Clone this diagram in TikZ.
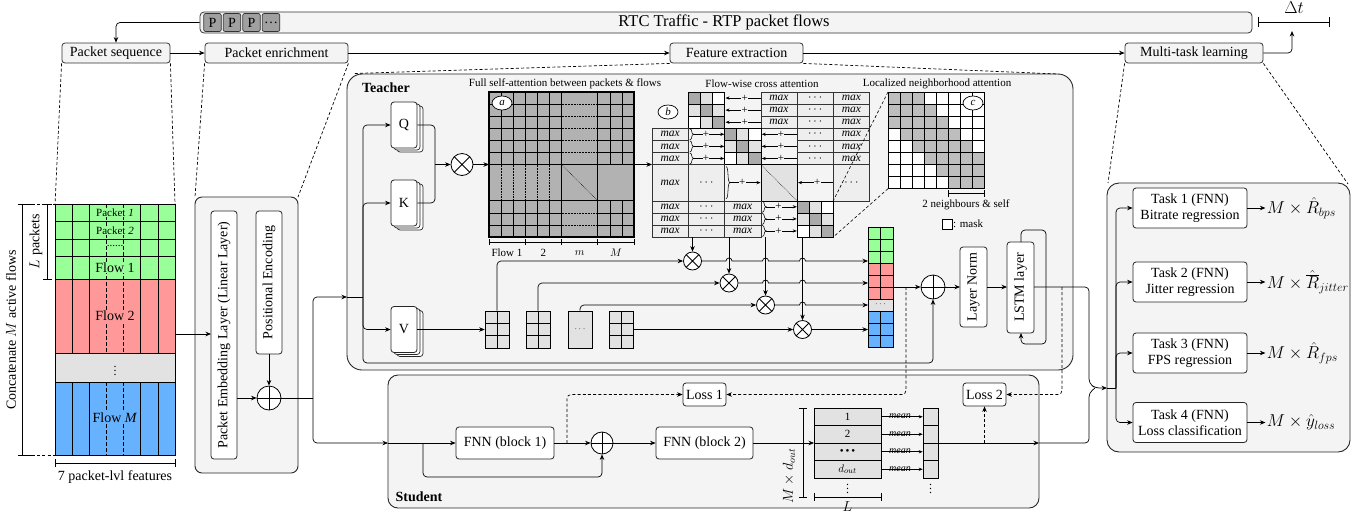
\documentclass[tikz,border=0pt]{standalone}
\usepackage{fontspec}
\setmainfont{Liberation Serif}
\usetikzlibrary{arrows.meta,shapes.geometric}

\definecolor{pgreen}{RGB}{153,255,153}
\definecolor{pred}{RGB}{255,153,153}
\definecolor{pblue}{RGB}{102,178,255}
\definecolor{pgray}{RGB}{226,226,226}
\definecolor{tbg}{RGB}{244,244,244}
\definecolor{agray}{RGB}{178,178,178}
\definecolor{bdark}{RGB}{170,170,170}
\definecolor{blight}{RGB}{226,226,226}
\definecolor{cellbg}{RGB}{238,238,238}
\definecolor{cgray}{RGB}{190,190,190}
\definecolor{pkt}{RGB}{160,160,160}

\newcommand\fxl{\fontsize{16.5}{19}\selectfont}
\newcommand\fl{\fontsize{14}{16.5}\selectfont}
\newcommand\fs{\fontsize{11}{13}\selectfont}
\newcommand\fmx{\fontsize{11.5}{12}\selectfont\itshape}
\newcommand\fpl{\fontsize{9.5}{10}\selectfont}
\newcommand\fplus{\fontsize{11}{11}\selectfont}
\newcommand\fmean{\fontsize{10}{10}\selectfont\itshape}
\newcommand\fvd{\fontsize{12}{12}\selectfont}
\newcommand\cw{12.083}
\newcommand\pktdots{\ldots}

% cells of the flow-wise cross attention block matrix
\newcommand\bMax[3]{\foreach \kk in {0,1,2}{\node[mcell] at ({#1+18.125},{#2+6.0415+\kk*12.083}) {#3};}}
\newcommand\bTall[3]{\node[mcell, minimum height=36.25pt] at ({#1+18.125},{#2+18.125}) {#3};}
\newcommand\bLarr[2]{\draw[arrs] ({#1+36},{#2}) -- ({#1+1},{#2}) node[pluslab,pos=0.45]{+};}
\newcommand\bLarrs[2]{\foreach \kk in {0,1,2}{\bLarr{#1}{#2+6.0415+\kk*12.083}}}
\newcommand\bRarr[3]{%
  \draw[line width=0.55pt] ({#1+1.5},{#2-#3}) .. controls ({#1+4.5},{#2-#3}) and ({#1+2.5},{#2}) .. ({#1+5.5},{#2}) .. controls ({#1+2.5},{#2}) and ({#1+4.5},{#2+#3}) .. ({#1+1.5},{#2+#3});
  \draw[arrs] ({#1+5.5},{#2}) -- ({#1+36},{#2}) node[pluslab,pos=0.4]{+};}
\newcommand\bRarrs[2]{\foreach \kk in {0,1,2}{\bRarr{#1}{#2+6.0415+\kk*12.083}{5.5}}}
\newcommand\bBlk[2]{\foreach \ii in {0,1,2}{\foreach \jj in {0,1,2}{%
  \pgfmathtruncatemacro\dd{abs(\ii-\jj)}%
  \ifcase\dd\def\bcol{bdark}\or\def\bcol{blight}\else\def\bcol{white}\fi
  \filldraw[fill=\bcol, draw=black, line width=0.5pt] ({#1+\jj*12.083},{#2+\ii*12.083}) rectangle ++(12.083,12.083);}}}
% stacked Q/K/V cards behind the front one
\newcommand\qkvback[2]{\draw[cardst] ({#1-7},{#2-19}) rectangle ++(26,46); \draw[cardst] ({#1-10},{#2-21}) rectangle ++(26,46);}

\begin{document}
\begin{tikzpicture}[x=1pt,y=-1pt,line width=0.7pt,
  arr/.style={-{Stealth[length=5.5pt,width=4.5pt]}},
  arrs/.style={-{Stealth[length=4pt,width=3.2pt]}, line width=0.55pt},
  rc/.style={rounded corners=4pt},
  dsh/.style={dash pattern=on 3pt off 2.2pt},
  stage/.style={draw=black!80, fill=tbg, rounded corners=3pt, line width=0.8pt, minimum height=20pt, inner sep=0pt, font=\fl},
  panel/.style={draw=black!85, fill=tbg, line width=0.9pt},
  wbox/.style={draw=black!85, fill=white, rounded corners=3pt, line width=0.8pt, inner sep=0pt},
  cardst/.style={draw=black!85, fill=white, rounded corners=3pt, line width=0.7pt},
  opl/.style={circle, draw, fill=white, inner sep=0pt, line width=0.8pt, path picture={\draw[line width=0.8pt] (path picture bounding box.north) -- (path picture bounding box.south) (path picture bounding box.west) -- (path picture bounding box.east);}},
  otm/.style={circle, draw, fill=white, inner sep=0pt, line width=0.8pt, path picture={\draw[line width=0.8pt] (path picture bounding box.north west) -- (path picture bounding box.south east) (path picture bounding box.north east) -- (path picture bounding box.south west);}},
  mcell/.style={draw=black!80, fill=cellbg, line width=0.5pt, minimum width=36.25pt, minimum height=12.083pt, inner sep=0pt, font=\fmx},
  pluslab/.style={fill=tbg, inner sep=0.2pt, font=\fplus},
  tag/.style={ellipse, draw, fill=white, line width=0.7pt, minimum width=20pt, minimum height=14pt, inner sep=0pt, font=\fs\itshape},
  mrow/.style={draw, fill=pgray, line width=0.6pt, minimum width=67pt, minimum height=17.5pt, inner sep=0pt, font=\fs},
  mcol/.style={draw, fill=pgray, line width=0.6pt, minimum width=15pt, minimum height=17.5pt, inner sep=0pt},
  vblock/.style={draw, fill=pgray, line width=0.6pt, minimum width=24pt, minimum height=37pt, inner sep=0pt},
  pktbox/.style={draw=black!80, fill=pkt, rounded corners=2pt, line width=0.7pt, minimum width=17.5pt, minimum height=18pt, inner sep=0pt, font=\fl},
  task/.style={wbox, minimum width=114pt, minimum height=40pt, align=center, font=\fontsize{14}{16.5}\selectfont}
]
\useasboundingbox (0,0) rectangle (1372,515);
\fill[white] (0,0) rectangle (1372,515);

% ---------- pipeline bar ----------
\node[draw=black!80, fill=tbg, rounded corners=4pt, line width=0.8pt, minimum width=1052pt, minimum height=21pt, inner sep=0pt] (bar) at (726,22.5) {};
\node[font=\fxl] (bartxt) at (724,22.5) {RTC Traffic - RTP packet flows};
\node[pktbox] (pk0) at (212.5,22.5) {P};
\node[pktbox] (pk1) at (232,22.5) {P};
\node[pktbox] (pk2) at (251.5,22.5) {P};
\node[pktbox] (pk3) at (271,22.5) {\pktdots};

\node[stage, minimum width=108pt] (seq) at (116,53) {Packet sequence};
\node[stage, minimum width=143pt] (enr) at (276.5,53) {Packet enrichment};
\node[stage, minimum width=133pt] (feat) at (736.5,53) {Feature extraction};
\node[stage, minimum width=138pt] (mtl) at (1194,53) {Multi-task learning};

\draw[arr,rc] (bar.west) -- (116,22.5) -- (seq.north);
\draw[arr] (seq.east) -- (enr.west);
\draw[arr] (enr.east) -- (feat.west);
\draw[arr] (feat.east) -- (mtl.west);
\coordinate (dtend) at (1292,31);
\draw[arr,rc] (mtl.east) -- (1292,53) -- (dtend);
\draw (1258,22) -- (1329,22) (1258,17) -- (1258,27) (1329,17) -- (1329,27);
\node[font=\fxl] (dt) at (1294,8) {$\Delta t$};

% ---------- panels ----------
\draw[panel, rounded corners=7pt] (195,197) rectangle (298,473);
\draw[panel, rounded corners=15pt] (347,74) rectangle (1073,370);
\draw[panel, rounded corners=10pt] (388,375) rectangle (1039,508);
\draw[panel, rounded corners=12pt] (1107,183) rectangle (1350,452);

% zoom guides from the pipeline stages
\draw[dsh] (seq.south west) -- (55,204) (seq.south east) -- (175,204);
\draw[dsh] (enr.south west) -- (195,197) (enr.south east) -- (298,197);
\draw[dsh] (feat.south west) -- (354,73.5) (feat.south east) -- (1058,74);
\draw[dsh] (mtl.south west) -- (1108,183) (mtl.south east) -- (1348,184);

% ---------- packet sequence of concatenated flows ----------
\fill[pgreen] (55,204) rectangle (175,279);
\fill[pred] (55,279) rectangle (175,353);
\fill[pgray] (55,353) rectangle (175,382);
\fill[pblue] (55,382) rectangle (175,455);
\foreach \ii in {1,2,5,6}{\draw ({55+\ii*17.143},204) -- ++(0,149) ({55+\ii*17.143},382) -- ++(0,73);}
\foreach \ii in {3,4}{\draw[dash pattern=on 4pt off 2pt] ({55+\ii*17.143},204) -- ++(0,149) ({55+\ii*17.143},382) -- ++(0,73);}
\foreach \yy in {221.7,239,256.3,279,353,382}{\draw (55,\yy) -- (175,\yy);}
\draw (55,204) rectangle (175,455);
\node[font=\fs, fill=pgreen, inner sep=0.5pt] (p1) at (115,213) {Packet \textit{1}};
\node[font=\fs, fill=pgreen, inner sep=0.5pt] (p2) at (115,230.3) {Packet \textit{2}};
\node[font=\fs] (p3) at (115,245.5) {......};
\node[font=\fl, fill=pgreen, inner sep=0.5pt] (f1) at (115,268) {Flow 1};
\node[font=\fl, fill=pred, inner sep=1pt] (f2) at (115,316) {Flow 2};
\node[font=\fvd, inner sep=0pt] (fd) at (115,367.5) {$\vdots$};
\node[font=\fl, fill=pblue, inner sep=1pt] (fm) at (115,418) {Flow \textit{M}};

\draw (47,204) -- (47,279) (43,204) -- (52,204) (43,279) -- (52,279);
\node[font=\fl, rotate=90] (lp) at (36,241.5) {$L$ packets};
\draw (22.7,204) -- (22.7,455) (18,204) -- (32,204) (18,455) -- (32,455);
\draw[dsh] (32,204) -- (55,204) (32,455) -- (55,455);
\node[font=\fl, rotate=90] (cm) at (11,330) {Concatenate $M$ active flows};
\draw (55,463) -- (175,463) (55,459) -- (55,467) (175,459) -- (175,467);
\node[font=\fl] (feat7) at (115,477.5) {7 packet-lvl features};

% ---------- packet enrichment ----------
\node[wbox, rotate=90, minimum width=248pt, minimum height=26pt, font=\fl] (pel) at (224,335) {Packet Embedding Layer (Linear Layer)};
\node[wbox, rotate=90, minimum width=143pt, minimum height=26pt, font=\fl] (pe) at (269,282.5) {Positional Encoding};
\node[opl, minimum size=24pt] (oe) at (269,398) {};
\draw[arr] (175,334) -- (211,334);
\draw[arr] (269,354) -- (oe.north);
\draw[arr] (237,398) -- (oe.west);
\draw[rc] (oe.east) -- (313,398);
\draw[arr,rc] (313,398) -- (313,297) -- (347,297);
\draw[arr,rc] (313,398) -- (313,443) -- (388,443);

% ---------- teacher ----------
\node[font=\fl\bfseries] (tl) at (386,88) {Teacher};
\qkvback{404}{125}
\node[wbox, minimum width=26pt, minimum height=46pt, font=\fl] (Q) at (404,125) {Q};
\qkvback{404}{203}
\node[wbox, minimum width=26pt, minimum height=46pt, font=\fl] (K) at (404,203) {K};
\qkvback{404}{329.5}
\node[wbox, minimum width=26pt, minimum height=46pt, font=\fl] (V) at (404,329.5) {V};
\draw (347,297) -- (363,297);
\draw[arr,rc] (363,297) -- (363,125) -- (Q.west);
\draw[arr,rc] (363,297) -- (363,203) -- (K.west);
\draw[arr,rc] (363,297) -- (363,329.5) -- (V.west);

\node[otm, minimum size=22pt] (mqk) at (462,164.5) {};
\draw[rc] (Q.east) -- (435,125) -- (435,164.5);
\draw[rc] (K.east) -- (435,203) -- (435,164.5);
\draw[arr] (435,164.5) -- (mqk.west);
\draw[arr] (mqk.east) -- (489,164.5);

% (a) full self-attention
\node[font=\fs] (ta) at (565,84) {Full self-attention between packets \& flows};
\fill[agray] (489,92) rectangle (634,237);
\begin{scope}[line width=0.55pt]
\foreach \ii in {1,2,4,5,10,11}{\draw ({489+\ii*\cw},92) -- ({489+\ii*\cw},164.5) ({489+\ii*\cw},200.75) -- ({489+\ii*\cw},237);}
\foreach \jj in {1,2,4,5,10,11}{\draw (489,{92+\jj*\cw}) -- (561.5,{92+\jj*\cw}) (597.75,{92+\jj*\cw}) -- (634,{92+\jj*\cw});
  \draw[densely dotted] (561.5,{92+\jj*\cw}) -- (597.75,{92+\jj*\cw});}
\foreach \ii in {1,2,3,4,5}{\draw[densely dotted] ({489+\ii*\cw},164.5) -- ({489+\ii*\cw},200.75);}
\draw[densely dotted] (561.5,128.25) -- (597.75,128.25);
\draw[densely dotted] (561.5,164.5) -- (597.75,200.75);
\end{scope}
\begin{scope}[line width=1.1pt]
\draw (525.25,92) -- (525.25,164.5) (525.25,200.75) -- (525.25,237);
\draw (489,128.25) -- (561.5,128.25) (597.75,128.25) -- (634,128.25);
\draw (561.5,92) -- (561.5,237) (597.75,92) -- (597.75,237);
\draw (489,164.5) -- (634,164.5) (489,200.75) -- (634,200.75);
\draw (489,92) rectangle (634,237);
\end{scope}
\node[tag] (la) at (502,103) {a};
\draw (489,242) -- (634,242);
\foreach \xx in {489,525.25,561.5,597.75,634}{\draw (\xx,239) -- (\xx,245);}
\node[font=\fs] (fl1) at (507,253) {Flow 1};
\node[font=\fs] (fl2) at (543.4,253) {2};
\node[font=\fs] (flm) at (579.6,253) {$m$};
\node[font=\fs] (flM) at (615.9,253) {$M$};
\draw[arr] (634,164.5) -- (652,164.5);

% (b) flow-wise cross attention
\node[font=\fs] (tb) at (762,84) {Flow-wise cross attention};
\bBlk{688.25}{92}
\bLarrs{724.5}{92}
\bMax{760.75}{92}{max}
\bMax{797}{92}{$\cdots$}
\bMax{833.25}{92}{max}
\bMax{652}{128.25}{max}
\bRarrs{688.25}{128.25}
\bBlk{724.5}{128.25}
\bLarrs{760.75}{128.25}
\bMax{797}{128.25}{$\cdots$}
\bMax{833.25}{128.25}{max}
\bTall{652}{164.5}{max}
\bTall{688.25}{164.5}{$\cdots$}
\bRarr{724.5}{182.625}{16}
\filldraw[fill=blight, draw=black, line width=0.5pt] (760.75,164.5) rectangle ++(36.25,36.25);
\draw[densely dotted, line width=0.55pt] (760.75,164.5) -- ++(36.25,36.25);
\bLarr{797}{182.625}
\bTall{833.25}{164.5}{$\cdots$}
\bMax{652}{200.75}{max}
\bMax{688.25}{200.75}{$\cdots$}
\bMax{724.5}{200.75}{max}
\bRarrs{760.75}{200.75}
\bBlk{797}{200.75}
\node[tag] (lb) at (668,112) {b};

% (c) localized neighbourhood attention
\node[font=\fs] (tc) at (937,84) {Localized neighborhood attention};
\foreach \ii in {0,1,2,3,4,5,6,7}{\foreach \jj in {0,1,2,3,4,5,6,7}{%
  \pgfmathtruncatemacro\dd{abs(\ii-\jj)}%
  \ifnum\dd<3 \def\ccol{cgray}\else\def\ccol{white}\fi
  \filldraw[fill=\ccol, draw=black, line width=0.75pt] ({888+\jj*\cw},{92+\ii*\cw}) rectangle ++(\cw,\cw);}}
\draw[line width=0.9pt] (888,92) rectangle ++({8*\cw},{8*\cw});
\node[tag] (lc) at (973,103) {c};
\draw ({888+5*\cw},193) -- ({888+8*\cw},193) ({888+5*\cw},189.5) -- ({888+5*\cw},196.5) ({888+8*\cw},189.5) -- ({888+8*\cw},196.5);
\node[font=\fs] (nb) at (966,205) {2 neighbours \& self};
\node[draw, fill=white, line width=0.7pt, minimum size=10pt, inner sep=0pt] (msq) at (947,224) {};
\node[font=\fs, anchor=west, inner sep=0.5pt] (mtx) at (msq.east) {: mask};
\draw[dsh, line width=0.6pt] (888,92) -- (833.25,200.75);
\draw[dsh, line width=0.6pt] (888,{92+8*\cw}) -- (833.25,237);

% values and per-flow weighting
\node[vblock] (vb1) at (497,329.5) {};
\node[vblock] (vb2) at (538,329.5) {};
\node[vblock, font=\fpl] (vb3) at (580,329.5) {$\cdots$};
\node[vblock] (vb4) at (621.5,329.5) {};
\foreach \xx in {485,526,609.5}{
  \draw[line width=0.6pt] ({\xx+12},311) -- ({\xx+12},348) (\xx,323.33) -- ({\xx+24},323.33) (\xx,335.67) -- ({\xx+24},335.67);}
\draw[arr] (V.east) -- (vb1.west);

\node[otm, minimum size=18pt] (m1) at (692.5,261) {};
\node[otm, minimum size=18pt] (m2) at (729,283) {};
\node[otm, minimum size=18pt] (m3) at (765.5,305) {};
\node[otm, minimum size=18pt] (m4) at (802.5,329.5) {};
\draw[arr,rc] (vb1.north) -- (497,261) -- (m1.west);
\draw[arr,rc] (vb2.north) -- (538,283) -- (m2.west);
\draw[arr,rc] (vb3.north) -- (580,305) -- (m3.west);
\draw[arr] (vb4.east) -- (m4.west);
\draw[arr] (692.5,237) -- (m1.north);
\draw[arr] (729,237) -- (m2.north);
\draw[arr] (765.5,237) -- (m3.north);
\draw[arr] (802.5,237) -- (m4.north);

% concatenated attention output
\fill[pgreen] (868,227) rectangle (893,263);
\fill[pred] (868,263) rectangle (893,299);
\fill[pgray] (868,299) rectangle (893,311);
\fill[pblue] (868,311) rectangle (893,347);
\draw[line width=0.6pt] (880.5,227) -- (880.5,299) (880.5,311) -- (880.5,347);
\foreach \yy in {239,251,263,275,287,299,311,323,335}{\draw[line width=0.6pt] (868,\yy) -- (893,\yy);}
\draw[line width=0.6pt] (868,227) rectangle (893,347);
\node[font=\fpl, inner sep=0pt] (od) at (880.5,304.5) {$\cdots$};

\draw[arr] (m1.east) -- (726,261) arc[start angle=180, end angle=360, radius=3] -- (762.5,261) arc[start angle=180, end angle=360, radius=3] -- (799.5,261) arc[start angle=180, end angle=360, radius=3] -- (868,261);
\draw[arr] (m2.east) -- (762.5,283) arc[start angle=180, end angle=360, radius=3] -- (799.5,283) arc[start angle=180, end angle=360, radius=3] -- (868,283);
\draw[arr] (m3.east) -- (799.5,305) arc[start angle=180, end angle=360, radius=3] -- (868,305);
\draw[arr] (m4.east) -- (868,329.5);

% residual, norm and LSTM
\node[opl, minimum size=24pt] (oT) at (933,287) {};
\node[wbox, rotate=90, minimum width=80pt, minimum height=27pt, font=\fl] (lnorm) at (973.5,287) {Layer Norm};
\node[wbox, rotate=90, minimum width=91pt, minimum height=27pt, font=\fl] (lstm) at (1020.5,287.5) {LSTM layer};
\draw[arr] (893,287) -- (oT.west);
\draw[arr,rc] (363,297) -- (363,363) -- (933,363) -- (oT.south);
\draw[arr] (oT.east) -- (960,287);
\draw[arr] (987,287) -- (1007,287);
\draw[arr,rc] (1021,242) -- (1021,230) -- (1046,230) -- (1046,344) -- (1021,344) -- (1021,333);
\draw[arr,rc] (1034,287) -- (1089,287) -- (1089,383) -- (1095,388) -- (1107,388);

% ---------- student ----------
\node[font=\fl\bfseries] (sl) at (419,497) {Student};
\node[wbox, minimum width=98pt, minimum height=32pt, font=\fl] (fnn1) at (505,443) {FNN (block 1)};
\node[opl, minimum size=22pt] (os) at (602,443) {};
\node[wbox, minimum width=97pt, minimum height=32pt, font=\fl] (fnn2) at (704.5,443) {FNN (block 2)};
\node[wbox, minimum width=43pt, minimum height=23pt, font=\fl] (loss1) at (704.5,394.5) {Loss 1};
\node[wbox, minimum width=43pt, minimum height=23pt, font=\fl] (loss2) at (984.5,394.5) {Loss 2};
\draw[arr] (388,443) -- (fnn1.west);
\draw[arr,rc] (423,443) -- (423,477) -- (602,477) -- (os.south);
\draw[arr] (fnn1.east) -- (os.west);
\draw[arr] (os.east) -- (fnn2.west);
\draw[arr] (fnn2.east) -- (814,443);
\draw[dsh,arr,rc] (567,443) -- (567,394.5) -- (loss1.west);
\draw[dsh,arr,rc] (906,287) -- (906,394.5) -- (loss1.east);
\draw[dsh,arr,rc] (1062,287) -- (1062,394.5) -- (loss2.east);

\foreach \kk/\tt in {0/1,1/2,2/{\textbullet\,\textbullet\,\textbullet},3/{$d_{out}$}}{
  \node[mrow] (mr\kk) at (847.5,{416.75+\kk*17.5}) {\tt};
  \node[mcol] (mc\kk) at (930.5,{416.75+\kk*17.5}) {};
  \draw[arrs] (mr\kk.east) -- (mc\kk.west) node[midway, anchor=south, inner sep=0pt, xshift=-2pt, yshift=-2.5pt, font=\fmean] {mean};}
\node[font=\fvd, inner sep=0pt] (vd1) at (847.5,486) {$\vdots$};
\node[font=\fvd, inner sep=0pt] (vd2) at (930.5,486) {$\vdots$};
\draw (814,497) -- (881,497) (814,493) -- (814,501) (881,493) -- (881,501);
\node[font=\fl] (lL) at (847.5,506.5) {$L$};
\draw (803,408) -- (803,497) (799,408) -- (807,408) (799,497) -- (807,497);
\node[font=\fl, rotate=90] (md) at (789,476) {$M \times d_{out}$};
\draw[arr] (938,443) -- (1039,443);
\draw[dsh,arr] (984.5,443) -- (loss2.south);
\draw[rc] (1039,443) -- (1089,443) -- (1089,393) -- (1095,388);

% ---------- multi-task heads ----------
\node[task] (t1) at (1190,208) {Task 1 (FNN)\\Bitrate regression};
\node[task] (t2) at (1190,282) {Task 2 (FNN)\\Jitter regression};
\node[task] (t3) at (1190,353) {Task 3 (FNN)\\FPS regression};
\node[task] (t4) at (1190,422.5) {Task 4 (FNN)\\Loss classification};
\draw (1107,388) -- (1116,388);
\foreach \tk in {t1,t2,t3,t4}{\draw[arr,rc] (1116,388) |- (\tk.west);}
\foreach \tk/\mm in {t1/{$M \times \hat{R}_{bps}$}, t2/{$M \times \hat{\overline{R}}_{jitter}$}, t3/{$M \times \hat{R}_{fps}$}, t4/{$M \times \hat{y}_{loss}$}}{
  \draw[arr] (\tk.east) -- ++(18,0) node[anchor=west, inner sep=1pt, font=\fxl] {\mm};}
\end{tikzpicture}
\end{document}
